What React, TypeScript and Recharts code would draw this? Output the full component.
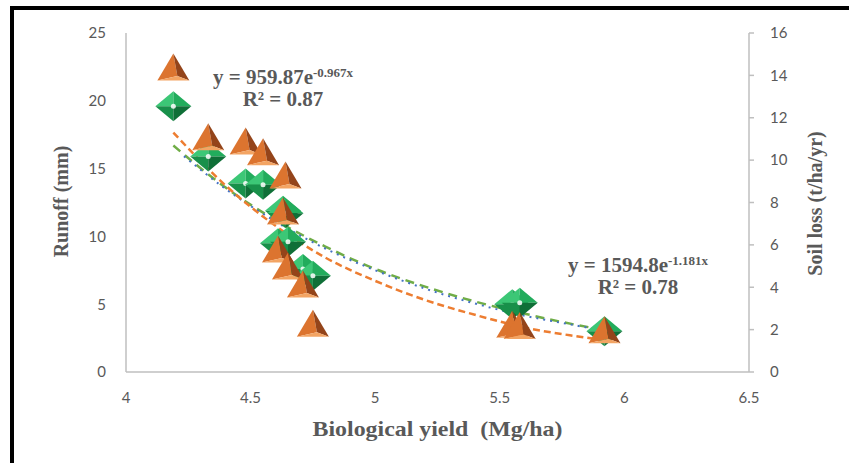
import React from "react"
import { ComposedChart, Scatter, Line, XAxis, YAxis, Label } from "recharts"

// axis ticks
const xTicks = [4, 4.5, 5, 5.5, 6, 6.5]
const runoffTicks = [0, 5, 10, 15, 20, 25]
const soilTicks = [0, 2, 4, 6, 8, 10, 12, 14, 16]

// observed points (biological yield vs runoff / soil loss)
const yieldValues = [4.19, 4.33, 4.48, 4.55, 4.61, 4.63, 4.64, 4.65, 4.71, 4.75, 5.55, 5.58, 5.92]
const runoff = [19.6, 15.9, 13.9, 13.8, 9.5, 11.9, 11.7, 9.6, 7.6, 7.1, 5.0, 5.1, 3.0]
const soilLoss = [14.4, 11.1, 10.9, 10.4, 5.8, 7.6, 9.3, 5.0, 4.15, 2.3, 2.25, 2.2, 2.0]

// trendlines
const fitX = [4.19, 4.4, 4.6, 4.8, 5.0, 5.2, 5.4, 5.6, 5.8, 5.92]
const runoffFit = [16.7, 13.6, 11.2, 9.25, 7.6, 6.3, 5.2, 4.3, 3.5, 3.1]
const blueX = [4.22, 4.4, 4.6, 4.8, 5.0, 5.2, 5.4, 5.6, 5.8, 5.92]
const runoffFit2 = [16.1, 13.5, 11.1, 9.1, 7.5, 6.15, 5.05, 4.15, 3.45, 3.05]
const soilFit = [11.3, 8.8, 6.9, 5.4, 4.3, 3.4, 2.7, 2.1, 1.7, 1.5]

const toPoints = (xs: number[], ys: number[]) => xs.map((x, i) => ({ x, y: ys[i] }))

const runoffData = toPoints(yieldValues, runoff)
const soilData = toPoints(yieldValues, soilLoss)
const runoffFitData = toPoints(fitX, runoffFit)
const runoffFit2Data = toPoints(blueX, runoffFit2)
const soilFitData = toPoints(fitX, soilFit)

const grey = "#595959"
const axisGrey = "#bfbfbf"
const tickFont = { fill: grey, fontSize: 15, fontFamily: "Lato, sans-serif" }
const serif = "'Liberation Serif', 'Times New Roman', serif"

const Pyramid = ({ cx, cy }: any) => {
  if (cx == null || cy == null) return null
  const w = 16
  const h = 13.5
  const ix = cx + 4
  const iy = cy + 9
  return (
    <g>
      <polygon points={`${cx},${cy - h} ${cx - w},${cy + h} ${ix},${iy}`} fill="#dc742f" />
      <polygon points={`${cx},${cy - h} ${ix},${iy} ${cx + w},${cy + h}`} fill="#94441a" />
      <polygon points={`${cx - w},${cy + h} ${ix},${iy} ${cx + w},${cy + h}`} fill="#f3a463" />
    </g>
  )
}

const Gem = ({ cx, cy }: any) => {
  if (cx == null || cy == null) return null
  const w = 18
  const h = 15
  return (
    <g>
      <polygon points={`${cx - w},${cy} ${cx},${cy - h} ${cx},${cy}`} fill="#3cc776" />
      <polygon points={`${cx},${cy - h} ${cx + w},${cy} ${cx},${cy}`} fill="#22ac5c" />
      <polygon points={`${cx - w},${cy} ${cx},${cy} ${cx},${cy + h}`} fill="#18904a" />
      <polygon points={`${cx},${cy} ${cx + w},${cy} ${cx},${cy + h}`} fill="#0f6f37" />
      <circle cx={cx} cy={cy} r={2.5} fill="#ffffff" opacity={0.85} />
    </g>
  )
}

const leftTitle = ({ viewBox }: any) => {
  const x = viewBox.x + 61
  const y = viewBox.y + viewBox.height / 2 - 1
  return (
    <text x={x} y={y} transform={`rotate(-90 ${x} ${y})`} textAnchor="middle" dominantBaseline="central"
      fill={grey} fontSize={20} fontWeight="bold" fontFamily={serif}>
      Runoff (mm)
    </text>
  )
}

const rightTitle = ({ viewBox }: any) => {
  const x = viewBox.x + 66
  const y = viewBox.y + viewBox.height / 2 + 1
  return (
    <text x={x} y={y} transform={`rotate(-90 ${x} ${y})`} textAnchor="middle" dominantBaseline="central"
      fill={grey} fontSize={20} fontWeight="bold" fontFamily={serif}>
      Soil loss (t/ha/yr)
    </text>
  )
}

const bottomTitle = ({ viewBox }: any) => (
  <text x={viewBox.x + viewBox.width / 2} y={viewBox.y + 57} textAnchor="middle" dominantBaseline="central"
    fill={grey} fontSize={21} fontWeight="bold" fontFamily={serif} textLength={250} lengthAdjust="spacingAndGlyphs">
    {"Biological yield\u00a0\u00a0(Mg/ha)"}
  </text>
)

const eqStyle: React.CSSProperties = {
  position: "absolute",
  color: grey,
  fontFamily: serif,
  fontWeight: "bold",
  fontSize: 21,
  lineHeight: "22px",
  textAlign: "center",
  whiteSpace: "pre",
}

const supStyle: React.CSSProperties = { fontSize: 13, verticalAlign: 7, lineHeight: 0 }

export default function App() {
  return (
    <div style={{ position: "absolute", left: 0, top: 0, width: 849, height: 463, background: "#fff", overflow: "hidden" }}>
      <div style={{ position: "absolute", left: 10, top: 6, width: 4, height: 457, background: "#000" }} />
      <div style={{ position: "absolute", left: 10, top: 6, width: 839, height: 4, background: "#000" }} />
      <ComposedChart width={849} height={463} margin={{ top: 33, right: 0, bottom: 61, left: 0 }}>
        <XAxis
          dataKey="x"
          type="number"
          domain={[4, 6.5]}
          ticks={xTicks}
          axisLine={{ stroke: axisGrey, strokeWidth: 1.5 }}
          tickLine={false}
          tickSize={0}
          tickMargin={20}
          tick={tickFont}
          height={30}
        >
          <Label content={bottomTitle} />
        </XAxis>
        <YAxis
          yAxisId="left"
          dataKey="y"
          type="number"
          domain={[0, 25]}
          ticks={runoffTicks}
          axisLine={{ stroke: axisGrey, strokeWidth: 1.5 }}
          tickLine={false}
          tickSize={0}
          tickMargin={20}
          tick={tickFont}
          width={126}
        >
          <Label content={leftTitle} />
        </YAxis>
        <YAxis
          yAxisId="right"
          orientation="right"
          dataKey="y"
          type="number"
          domain={[0, 16]}
          ticks={soilTicks}
          axisLine={{ stroke: axisGrey, strokeWidth: 1.5 }}
          tickLine={{ stroke: axisGrey, strokeWidth: 1.5 }}
          tickSize={5}
          tickMargin={16}
          tick={{ ...tickFont, textAnchor: "start" }}
          width={100}
        >
          <Label content={rightTitle} />
        </YAxis>
        <Scatter yAxisId="left" data={runoffData} dataKey="y" shape={<Gem />} isAnimationActive={false} />
        <Scatter yAxisId="right" data={soilData} dataKey="y" shape={<Pyramid />} isAnimationActive={false} />
        <Line yAxisId="left" data={runoffFitData} dataKey="y" type="monotone" stroke="#70ad47" strokeWidth={2.5}
          strokeDasharray="9 6" dot={false} activeDot={false} isAnimationActive={false} />
        <Line yAxisId="left" data={runoffFit2Data} dataKey="y" type="monotone" stroke="#4472c4" strokeWidth={2}
          strokeDasharray="2 5" strokeDashoffset={-11} dot={false} activeDot={false} isAnimationActive={false} />
        <Line yAxisId="right" data={soilFitData} dataKey="y" type="monotone" stroke="#ed7d31" strokeWidth={2.5}
          strokeDasharray="7 4" dot={false} activeDot={false} isAnimationActive={false} />
      </ComposedChart>
      <div style={{ ...eqStyle, left: 201, top: 66, width: 164 }}>
        <div>
          y = 959.87e<sup style={supStyle}>-0.967x</sup>
        </div>
        <div>R² = 0.87</div>
      </div>
      <div style={{ ...eqStyle, left: 544, top: 254, width: 188 }}>
        <div>
          y = 1594.8e<sup style={supStyle}>-1.181x</sup>
        </div>
        <div>R² = 0.78</div>
      </div>
    </div>
  )
}
